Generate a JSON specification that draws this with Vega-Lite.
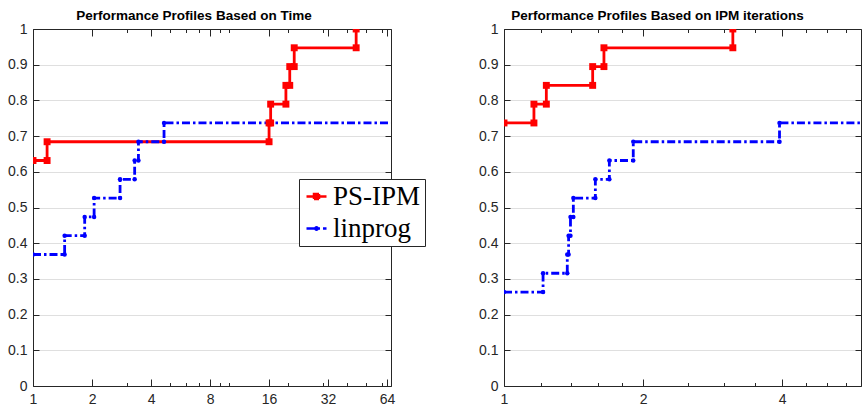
{
  "$schema": "https://vega.github.io/schema/vega-lite/v6.json",
  "padding": {"left": 7, "top": 8, "right": 0, "bottom": 0},
  "spacing": 113,
  "bounds": "flush",
  "config": {
    "view": {"stroke": null},
    "axis": {
      "domainColor": "#262626", "tickColor": "#262626", "labelColor": "#262626",
      "labelFont": "Liberation Sans", "labelFontSize": 14, "title": null,
      "domainWidth": 1, "tickWidth": 1
    }
  },
  "datasets": {
    "time": [
      {"s": "PS-IPM", "x": 1, "y": 0.6316},
      {"s": "PS-IPM", "x": 1.18, "y": 0.6316},
      {"s": "PS-IPM", "x": 1.18, "y": 0.6842},
      {"s": "PS-IPM", "x": 16.0, "y": 0.6842},
      {"s": "PS-IPM", "x": 16.0, "y": 0.7368},
      {"s": "PS-IPM", "x": 16.3, "y": 0.7368},
      {"s": "PS-IPM", "x": 16.3, "y": 0.7895},
      {"s": "PS-IPM", "x": 19.5, "y": 0.7895},
      {"s": "PS-IPM", "x": 19.5, "y": 0.8421},
      {"s": "PS-IPM", "x": 20.4, "y": 0.8421},
      {"s": "PS-IPM", "x": 20.4, "y": 0.8947},
      {"s": "PS-IPM", "x": 21.5, "y": 0.8947},
      {"s": "PS-IPM", "x": 21.5, "y": 0.9474},
      {"s": "PS-IPM", "x": 44.5, "y": 0.9474},
      {"s": "PS-IPM", "x": 44.5, "y": 1.0},
      {"s": "linprog", "x": 1, "y": 0.3684},
      {"s": "linprog", "x": 1.45, "y": 0.3684},
      {"s": "linprog", "x": 1.45, "y": 0.4211},
      {"s": "linprog", "x": 1.835, "y": 0.4211},
      {"s": "linprog", "x": 1.835, "y": 0.4737},
      {"s": "linprog", "x": 2.05, "y": 0.4737},
      {"s": "linprog", "x": 2.05, "y": 0.5263},
      {"s": "linprog", "x": 2.78, "y": 0.5263},
      {"s": "linprog", "x": 2.78, "y": 0.5789},
      {"s": "linprog", "x": 3.3, "y": 0.5789},
      {"s": "linprog", "x": 3.3, "y": 0.6316},
      {"s": "linprog", "x": 3.45, "y": 0.6316},
      {"s": "linprog", "x": 3.45, "y": 0.6842},
      {"s": "linprog", "x": 4.66, "y": 0.6842},
      {"s": "linprog", "x": 4.66, "y": 0.7368},
      {"s": "linprog", "x": 72, "y": 0.7368}
    ],
    "iter": [
      {"s": "PS-IPM", "x": 1, "y": 0.7368},
      {"s": "PS-IPM", "x": 1.161, "y": 0.7368},
      {"s": "PS-IPM", "x": 1.161, "y": 0.7895},
      {"s": "PS-IPM", "x": 1.235, "y": 0.7895},
      {"s": "PS-IPM", "x": 1.235, "y": 0.8421},
      {"s": "PS-IPM", "x": 1.556, "y": 0.8421},
      {"s": "PS-IPM", "x": 1.556, "y": 0.8947},
      {"s": "PS-IPM", "x": 1.646, "y": 0.8947},
      {"s": "PS-IPM", "x": 1.646, "y": 0.9474},
      {"s": "PS-IPM", "x": 3.13, "y": 0.9474},
      {"s": "PS-IPM", "x": 3.13, "y": 1.0},
      {"s": "linprog", "x": 1, "y": 0.2632},
      {"s": "linprog", "x": 1.215, "y": 0.2632},
      {"s": "linprog", "x": 1.215, "y": 0.3158},
      {"s": "linprog", "x": 1.371, "y": 0.3158},
      {"s": "linprog", "x": 1.371, "y": 0.3684},
      {"s": "linprog", "x": 1.38, "y": 0.3684},
      {"s": "linprog", "x": 1.38, "y": 0.4211},
      {"s": "linprog", "x": 1.393, "y": 0.4211},
      {"s": "linprog", "x": 1.393, "y": 0.4737},
      {"s": "linprog", "x": 1.413, "y": 0.4737},
      {"s": "linprog", "x": 1.413, "y": 0.5263},
      {"s": "linprog", "x": 1.577, "y": 0.5263},
      {"s": "linprog", "x": 1.577, "y": 0.5789},
      {"s": "linprog", "x": 1.691, "y": 0.5789},
      {"s": "linprog", "x": 1.691, "y": 0.6316},
      {"s": "linprog", "x": 1.905, "y": 0.6316},
      {"s": "linprog", "x": 1.905, "y": 0.6842},
      {"s": "linprog", "x": 3.95, "y": 0.6842},
      {"s": "linprog", "x": 3.95, "y": 0.7368},
      {"s": "linprog", "x": 6.3, "y": 0.7368}
    ]
  },
  "hconcat": [
    {
      "width": 358, "height": 357,
      "title": {"text": "Performance Profiles Based on Time", "font": "Liberation Sans", "fontSize": 13.5, "fontWeight": "bold", "color": "black", "anchor": "middle", "dx": -18, "offset": 0},
      "data": {"name": "time"},
      "layer": [
        {
          "mark": {"type": "line", "strokeWidth": 2.8, "clip": true},
          "encoding": {
            "x": {"field": "x", "type": "quantitative", "scale": {"type": "log", "base": 2, "domain": [1, 67], "nice": false, "zero": false},
              "axis": {"orient": "bottom", "values": [1,2,3,4,5,6,7,8,9,10,16,20,30,32,40,50,60,64], "grid": false, "labelFlush": false, "labelOverlap": false,
                "labelExpr": "indexof([1,2,4,8,16,32,64], datum.value) >= 0 ? format(datum.value, 'd') : ''",
                "tickSize": {"condition": {"test": "indexof([1,2,4,8,16,32,64], datum.value) >= 0", "value": -7}, "value": -3.5},
                "labelPadding": 13}},
            "y": {"field": "y", "type": "quantitative", "scale": {"domain": [0, 1], "nice": false},
              "axis": {"orient": "left", "values": [0,0.1,0.2,0.3,0.4,0.5,0.6,0.7,0.8,0.9,1], "format": ".1~f", "grid": true, "gridColor": "#dfdfdf", "tickSize": -6, "labelPadding": 12}},
            "color": {"field": "s", "type": "nominal", "scale": {"domain": ["PS-IPM", "linprog"], "range": ["#ff0000", "#0000ff"]},
              "legend": {
                "orient": "none", "legendX": 266, "legendY": 150, "title": null,
                "labelFont": "Liberation Serif", "labelFontSize": 27, "labelColor": "black", "labelOffset": 3,
                "strokeColor": "#262626", "fillColor": "white", "padding": 4, "rowPadding": 4,
                "symbolSize": 400, "symbolStrokeWidth": 2.5, "symbolType": "stroke",
                "encode": {"symbols": {"update": {
                  "shape": {"signal": "datum.value === 'PS-IPM' ? 'M-1,0H1M-0.25,-0.25H0.25V0.25H-0.25Z' : 'M-1,0H1M-0.12,0A0.12,0.12,0,1,0,0.12,0A0.12,0.12,0,1,0,-0.12,0'"},
                  "fill": {"signal": "datum.value === 'PS-IPM' ? '#ff0000' : '#0000ff'"},
                  "stroke": {"signal": "datum.value === 'PS-IPM' ? '#ff0000' : '#0000ff'"},
                  "strokeWidth": {"value": 2.5},
                  "strokeDash": {"signal": "datum.value === 'PS-IPM' ? [1,0] : [4,1.5,1.5,1.5]"}
                }}}
              }},
            "strokeDash": {"field": "s", "type": "nominal", "scale": {"domain": ["PS-IPM", "linprog"], "range": [[1,0],[8,3,2.5,3]]}, "legend": null}
          }
        },
        {
          "transform": [{"filter": "datum.s === 'PS-IPM'"}],
          "mark": {"type": "square", "size": 48, "color": "#ff0000", "opacity": 1, "clip": true},
          "encoding": {
            "x": {"field": "x", "type": "quantitative", "axis": null},
            "y": {"field": "y", "type": "quantitative", "axis": null}
          }
        },
        {
          "transform": [{"filter": "datum.s === 'linprog'"}],
          "mark": {"type": "circle", "size": 20, "color": "#0000ff", "opacity": 1, "clip": true},
          "encoding": {
            "x": {"field": "x", "type": "quantitative", "axis": null},
            "y": {"field": "y", "type": "quantitative", "axis": null}
          }
        },
        {
          "mark": {"type": "point", "opacity": 0},
          "encoding": {
            "x": {"field": "x", "type": "quantitative",
              "axis": {"orient": "top", "values": [1,2,3,4,5,6,7,8,9,10,16,20,30,32,40,50,60,64], "labels": false, "grid": false,
                "tickSize": {"condition": {"test": "indexof([1,2,4,8,16,32,64], datum.value) >= 0", "value": -7}, "value": -3.5}}},
            "y": {"field": "y", "type": "quantitative",
              "axis": {"orient": "right", "values": [0,0.1,0.2,0.3,0.4,0.5,0.6,0.7,0.8,0.9,1], "labels": false, "grid": false, "tickSize": -6}}
          }
        }
      ],
      "resolve": {"axis": {"x": "independent", "y": "independent"}}
    },
    {
      "width": 357, "height": 357,
      "title": {"text": "Performance Profiles Based on IPM iterations", "font": "Liberation Sans", "fontSize": 13.5, "fontWeight": "bold", "color": "black", "anchor": "middle", "dx": -25, "offset": 0},
      "data": {"name": "iter"},
      "layer": [
        {
          "mark": {"type": "line", "strokeWidth": 2.8, "clip": true},
          "encoding": {
            "x": {"field": "x", "type": "quantitative", "scale": {"type": "log", "base": 2, "domain": [1, 5.93], "nice": false, "zero": false},
              "axis": {"orient": "bottom", "values": [1,1.2,1.4,1.6,1.8,2,2.5,3,3.5,4,4.5,5,5.5], "grid": false, "labelFlush": false, "labelOverlap": false,
                "labelExpr": "indexof([1,2,4], datum.value) >= 0 ? format(datum.value, 'd') : ''",
                "tickSize": {"condition": {"test": "indexof([1,2,4], datum.value) >= 0", "value": -7}, "value": -3.5},
                "labelPadding": 13}},
            "y": {"field": "y", "type": "quantitative", "scale": {"domain": [0, 1], "nice": false},
              "axis": {"orient": "left", "values": [0,0.1,0.2,0.3,0.4,0.5,0.6,0.7,0.8,0.9,1], "format": ".1~f", "grid": true, "gridColor": "#dfdfdf", "tickSize": -6, "labelPadding": 12}},
            "color": {"field": "s", "type": "nominal", "scale": {"domain": ["PS-IPM", "linprog"], "range": ["#ff0000", "#0000ff"]}, "legend": null},
            "strokeDash": {"field": "s", "type": "nominal", "scale": {"domain": ["PS-IPM", "linprog"], "range": [[1,0],[8,3,2.5,3]]}, "legend": null}
          }
        },
        {
          "transform": [{"filter": "datum.s === 'PS-IPM'"}],
          "mark": {"type": "square", "size": 48, "color": "#ff0000", "opacity": 1, "clip": true},
          "encoding": {
            "x": {"field": "x", "type": "quantitative", "axis": null},
            "y": {"field": "y", "type": "quantitative", "axis": null}
          }
        },
        {
          "transform": [{"filter": "datum.s === 'linprog'"}],
          "mark": {"type": "circle", "size": 20, "color": "#0000ff", "opacity": 1, "clip": true},
          "encoding": {
            "x": {"field": "x", "type": "quantitative", "axis": null},
            "y": {"field": "y", "type": "quantitative", "axis": null}
          }
        },
        {
          "mark": {"type": "point", "opacity": 0},
          "encoding": {
            "x": {"field": "x", "type": "quantitative",
              "axis": {"orient": "top", "values": [1,1.2,1.4,1.6,1.8,2,2.5,3,3.5,4,4.5,5,5.5], "labels": false, "grid": false,
                "tickSize": {"condition": {"test": "indexof([1,2,4], datum.value) >= 0", "value": -7}, "value": -3.5}}},
            "y": {"field": "y", "type": "quantitative",
              "axis": {"orient": "right", "values": [0,0.1,0.2,0.3,0.4,0.5,0.6,0.7,0.8,0.9,1], "labels": false, "grid": false, "tickSize": -6}}
          }
        }
      ],
      "resolve": {"axis": {"x": "independent", "y": "independent"}}
    }
  ],
  "resolve": {"scale": {"x": "independent", "y": "independent", "color": "independent", "strokeDash": "independent"}, "legend": {"color": "independent"}}
}
